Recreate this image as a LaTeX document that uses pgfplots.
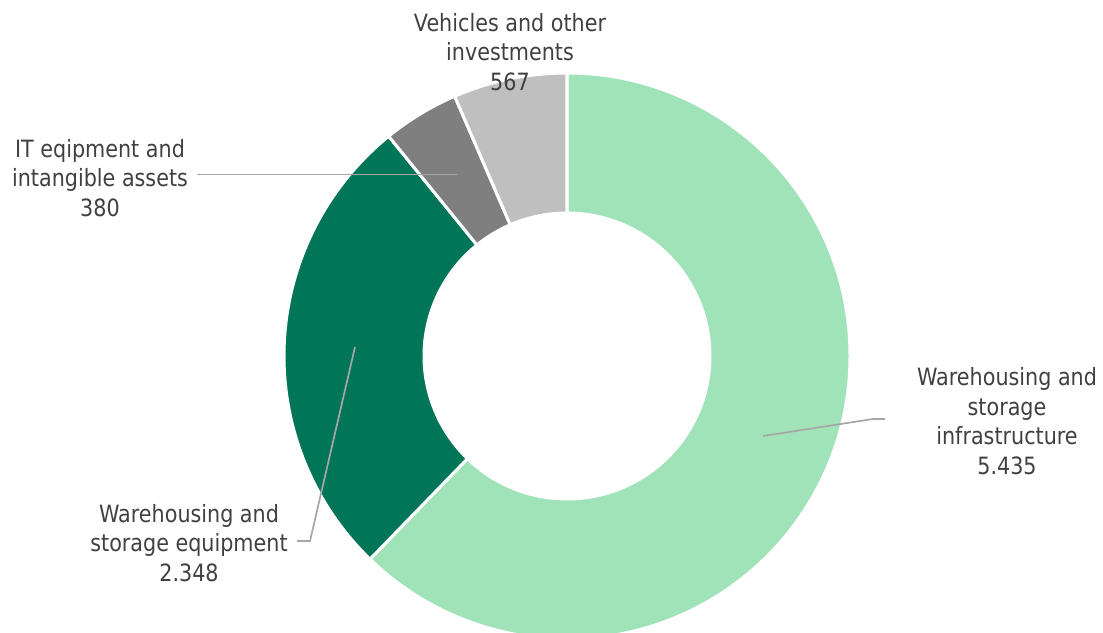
\documentclass[border=0pt]{standalone}
\usepackage{pgfplots}
\pgfplotsset{compat=1.18}
\usepackage{pgfplotstable}
\usepackage{fontspec}
\setmainfont{DejaVu Sans}[FakeStretch=0.87]

\definecolor{infra}{HTML}{A1E3B9}
\definecolor{equip}{HTML}{007558}
\definecolor{itgray}{HTML}{7F7F7F}
\definecolor{vehgray}{HTML}{BFBFBF}
\definecolor{txt}{HTML}{404040}
\definecolor{leader}{HTML}{A6A6A6}

% investments, clockwise from 12 o'clock
\pgfplotstableread{
label value
infra 5435
equip 2348
it 380
veh 567
}\donutdata

\pgfplotstablegetelem{0}{value}\of\donutdata \let\va\pgfplotsretval
\pgfplotstablegetelem{1}{value}\of\donutdata \let\vb\pgfplotsretval
\pgfplotstablegetelem{2}{value}\of\donutdata \let\vc\pgfplotsretval
\pgfplotstablegetelem{3}{value}\of\donutdata \let\vd\pgfplotsretval
\pgfmathsetmacro\total{\va+\vb+\vc+\vd}
\pgfmathsetmacro\angA{90}
\pgfmathsetmacro\angB{\angA-360*(\va/\total)}
\pgfmathsetmacro\angC{\angB-360*(\vb/\total)}
\pgfmathsetmacro\angD{\angC-360*(\vc/\total)}
\pgfmathsetmacro\angE{\angD-360*(\vd/\total)}

% centre (567,276), radii 283 / 143, 1 unit = 1pt
\newcommand\donutwedge[3]{%
  \filldraw[fill=#1, draw=white, line width=3pt, line join=round]
    (axis cs:{567+143*cos(#2)},{276+143*sin(#2)})
    -- (axis cs:{567+283*cos(#2)},{276+283*sin(#2)})
    arc[start angle=#2, end angle=#3, radius=283pt]
    -- (axis cs:{567+143*cos(#3)},{276+143*sin(#3)})
    arc[start angle=#3, end angle=#2, radius=143pt] -- cycle;}

\begin{document}
\begin{tikzpicture}
\begin{axis}[
  width=1103pt, height=632pt, scale only axis,
  xmin=0, xmax=1103, ymin=0, ymax=632,
  disabledatascaling,
  hide axis,
  clip=true,
]
\begin{scope}
\clip (axis cs:0,0) rectangle (axis cs:1103,632);
\donutwedge{infra}{\angA}{\angB}
\donutwedge{equip}{\angB}{\angC}
\donutwedge{itgray}{\angC}{\angD}
\donutwedge{vehgray}{\angD}{\angE}
\end{scope}

\draw[leader, line width=1.7pt] (axis cs:197,457.5) -- (axis cs:457,457.5);
\draw[leader, line width=1.7pt] (axis cs:297,91) -- (axis cs:310,91) -- (axis cs:355,285);
\draw[leader, line width=1.7pt] (axis cs:763,196) -- (axis cs:873,213) -- (axis cs:885,213);

\tikzset{lbl/.style={align=center, text=txt, inner sep=0pt,
  font=\fontsize{23.8}{29.5}\selectfont}}
\node[lbl] at (axis cs:510,580) {Vehicles and other\\investments\\567};
\node[lbl] at (axis cs:100,454) {IT eqipment and\\intangible assets\\380};
\node[lbl] at (axis cs:189,89) {Warehousing and\\storage equipment\\2.348};
\node[lbl] at (axis cs:1007,211) {Warehousing and\\storage\\infrastructure\\5.435};
\end{axis}
\pgfresetboundingbox
\path (current axis.south west) rectangle (current axis.north east);
\end{tikzpicture}
\end{document}
